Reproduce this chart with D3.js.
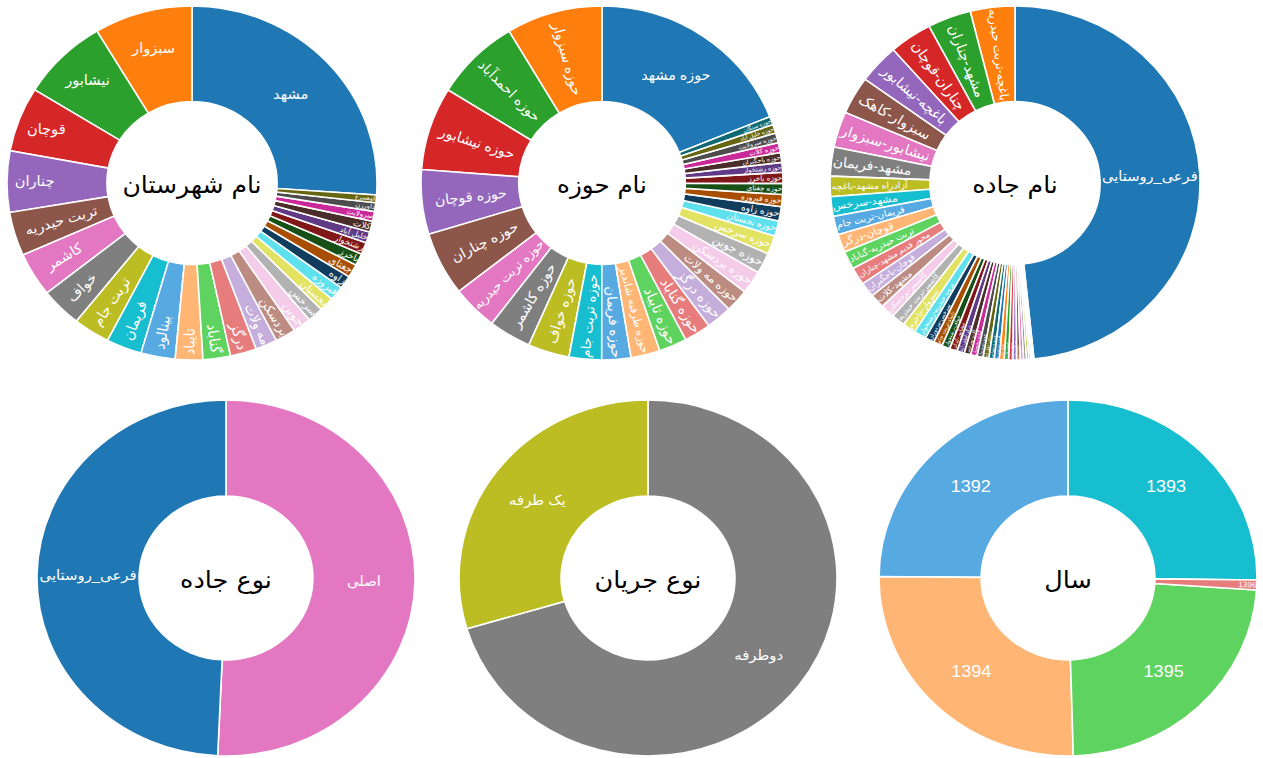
<!DOCTYPE html>
<html><head><meta charset="utf-8">
<script src="https://cdn.jsdelivr.net/npm/d3@7"></script>
<style>body{margin:0;background:#fff}svg{display:block}</style>
</head><body>
<svg id="chart" width="1263" height="758"></svg>
<script>
// ---------- colour way (category10 + lighter + darker, as Plotly extends pie colours) ----------
const baseColors  = ["#1f77b4","#ff7f0e","#2ca02c","#d62728","#9467bd","#8c564b","#e377c2","#7f7f7f","#bcbd22","#17becf"];
const lightColors = ["#57a9e2","#ffb574","#5fd35f","#e77c7c","#c6aedc","#bc8b82","#f4cbe8","#b2b2b2","#e2e362","#5fe0ed"];
const darkColors  = ["#103d5d","#a74e00","#165016","#801718","#613a85","#4a2d28","#ca2a99","#4c4c4c","#666612","#0d6a73"];
const palette = baseColors.concat(lightColors, darkColors);

// ---------- chart 1 : نام شهرستان ----------
const countyLabels = ["مشهد","سبزوار","نیشابور","قوچان","چناران","تربت حیدریه","کاشمر","خواف","تربت جام","فریمان","بینالود","تایباد","گناباد","درگز","مه ولات","بردسکن","جوین","سرخس","بجستان","فیروزه","زاوه","جغتای","باخرز","رشتخوار","خلیل آباد","کلات","سرولایت","داورزن","کوهسرخ"];
const countyValues = [26.1,8.6,7.6,5.9,5.6,4.0,4.0,3.6,3.2,3.1,3.0,2.4,2.4,2.3,1.9,1.8,1.6,1.4,1.3,1.3,1.2,1.2,1.1,1.1,1.0,1.0,0.9,0.8,0.7];

// ---------- chart 2 : نام حوزه ----------
const basinLabels = ["حوزه مشهد","حوزه سبزوار","حوزه احمدآباد","حوزه نیشابور","حوزه قوچان","حوزه چناران","حوزه تربت حیدریه","حوزه کاشمر","حوزه خواف","حوزه تربت جام","حوزه فریمان","حوزه طرقبه شاندیز","حوزه تایباد","حوزه گناباد","حوزه درگز","حوزه مه ولات","حوزه بردسکن","حوزه جوین","حوزه سرخس","حوزه بجستان","حوزه زاوه","حوزه فیروزه","حوزه جغتای","حوزه باخرز","حوزه رشتخوار","حوزه باجگیران","حوزه کلات","حوزه سرولایت","حوزه خلیل آباد","حوزه سنگان"];
const basinValues = [18.9,8.6,7.6,7.6,5.9,5.8,4.1,3.8,3.7,2.9,2.6,2.6,2.5,2.4,2.3,2.1,2.1,1.9,1.7,1.4,1.3,1.1,1.0,1.0,0.9,0.9,0.9,0.9,0.8,0.75];

// ---------- chart 3 : نام جاده ----------
const roadLabels = ["فرعی_روستایی","باغچه-تربت حیدریه","مشهد-چناران","چناران-قوچان","باغچه-نیشابور","سبزوار-کاهک","نیشابور-سبزوار","مشهد-فریمان","آزادراه مشهد-باغچه","مشهد-سرخس","فریمان-تربت جام","قوچان-درگز","تربت حیدریه-گناباد","محور قدیم مشهد-چناران","قوچان-باجگیران","مشهد-کلات","کاشمر-بردسکن","کاشمر-تربت حیدریه","سبزوار-جاجرم","تربت حیدریه-رشتخوار","سرخس-مزدوران","تایباد-تربت جام","خواف-رشتخوار","نیشابور-کدکن","درگز-لطف آباد","کلات-سرخس","گناباد-بجستان","جوین-سبزوار","بردسکن-خلیل آباد","فیروزه-نیشابور","زاوه-تربت حیدریه","تایباد-باخرز","قوچان-فاروج","مشهد-نیشابور","سرولایت-نیشابور","چناران-رادکان","طرقبه-شاندیز","داورزن-سبزوار","جغتای-سبزوار","مه ولات-فیض آباد","کاشمر-خلیل آباد","بجستان-فردوس"];
const roadValues = [48.4,3.9,3.8,3.75,3.6,3.45,3.25,2.65,1.85,1.8,1.7,1.65,1.65,1.6,1.35,1.3,1.25,1.2,1.15,1.1,0.8,0.78,0.72,0.67,0.64,0.58,0.56,0.53,0.5,0.47,0.44,0.42,0.39,0.36,0.33,0.31,0.28,0.25,0.22,0.17,0.14,0.11];

// ---------- chart 4 : نوع جاده ----------
const roadTypeLabels = ["اصلی","فرعی_روستایی"];
const roadTypeValues = [50.7,49.3];
const roadTypeColors = ["#e377c2","#1f77b4"];

// ---------- chart 5 : نوع جریان ----------
const flowLabels = ["دوطرفه","یک طرفه"];
const flowValues = [70.4,29.6];
const flowColors = ["#7f7f7f","#bcbd22"];

// ---------- chart 6 : سال ----------
const yearLabels = ["1393","1392","1394","1395","1396"];
const yearValues = [25.2,24.9,25.6,23.5,0.9];
const yearColors = ["#17becf","#57a9e2","#ffb574","#5fd35f","#e77c7c"];

const charts = [
  {title:"نام شهرستان", labels:countyLabels, values:countyValues, colors:null, cx:192, cy:183, rx:185, ry:177, fs:14},
  {title:"نام حوزه",     labels:basinLabels,  values:basinValues,  colors:null, cx:602, cy:183, rx:181, ry:177, fs:14},
  {title:"نام جاده",     labels:roadLabels,   values:roadValues,   colors:null, cx:1015, cy:183, rx:185, ry:177, fs:14},
  {title:"نوع جاده",     labels:roadTypeLabels, values:roadTypeValues, colors:roadTypeColors, cx:226, cy:578, rx:189, ry:178, fs:14},
  {title:"نوع جریان",    labels:flowLabels,   values:flowValues,   colors:flowColors, cx:648, cy:578, rx:189, ry:178, fs:14},
  {title:"سال",          labels:yearLabels,   values:yearValues,   colors:yearColors, cx:1068, cy:578, rx:189, ry:178, fs:17}
];

const HOLE = 0.46, TEXTPAD = 3;
const svg = d3.select("#chart");
svg.append("rect").attr("width",1263).attr("height",758).attr("fill","#fff");

function calcMaxHalfSize(a, halfAngle, r, ring){
  const q = a + 1/(2*Math.tan(halfAngle));
  return r*Math.min(1/(Math.sqrt(q*q+0.5)+q), ring/(Math.sqrt(a*a+ring/2)+a));
}
function calcRCenter(a,b){ return Math.cos(b) - a*b; }
function calcRotate(t){ return (180/Math.PI*t + 720) % 180 - 90; }
function radT(W,H,R,ring,half,mid){
  const r = Math.max(0, R-2*TEXTPAD), a = W/H, s = calcMaxHalfSize(a,half,r,ring);
  return {scale:s*2/H, rc:calcRCenter(a,s/r), rot:calcRotate(mid)};
}
function tanT(W,H,R,ring,half,mid){
  const r = Math.max(0, R-2*TEXTPAD), a = H/W, s = calcMaxHalfSize(a,half,r,ring);
  return {scale:s*2/W, rc:calcRCenter(a,s/r), rot:calcRotate(mid+Math.PI/2)};
}
function insideTransform(W,H,start,stop,R,ring){
  const half = Math.abs(stop-start)/2, mid = (start+stop)/2;
  const cands = [];
  const crossing = ang => (start>ang && ang>stop) || (start<ang && ang<stop);
  const consider = (ang,key) => {
    if(!crossing(ang)) return;
    const ce = Math.min(Math.abs(ang-start), Math.abs(ang-stop));
    const t = key==="tan" ? tanT(W,H,R,ring,ce,0) : radT(W,H,R,ring,ce,Math.PI/2);
    t.pos = ang; cands.push(t);
  };
  for(let i=4;i>=-4;i-=2) consider(Math.PI*i,"tan");
  for(let i=4;i>=-4;i-=2) consider(Math.PI*(i+1),"tan");
  for(let i=4;i>=-4;i-=2) consider(Math.PI*(i+1.5),"rad");
  for(let i=4;i>=-4;i-=2) consider(Math.PI*(i+0.5),"rad");
  const rIns = Math.min(1/(1+1/Math.sin(Math.min(half,Math.PI/2))), ring/2);
  const h = {scale:rIns*R*2/Math.hypot(W,H), rc:1-rIns, rot:0, pos:mid};
  if(h.scale>=1) return h;
  cands.push(h);
  const hh = Math.min(half, Math.PI/2-1e-3);
  const rt = radT(W,H,R,ring,hh,mid); rt.pos = mid; cands.push(rt);
  const tt = tanT(W,H,R,ring,hh,mid); tt.pos = mid; cands.push(tt);
  let best = cands[0], ms = 0;
  cands.forEach(c => { if(ms < c.scale){ ms = c.scale; best = c; } });
  return best;
}

function drawDonut(cfg){
  const R = cfg.ry, ring = 1-HOLE;
  const sx = cfg.rx/cfg.ry;
  const g = svg.append("g").attr("transform",`translate(${cfg.cx},${cfg.cy}) scale(${sx},1)`);
  const total = d3.sum(cfg.values);
  const s0 = 2*Math.PI*cfg.values[0]/total;
  const pie = d3.pie().sort(null).startAngle(s0).endAngle(s0-2*Math.PI);
  const arcs = pie(cfg.values);
  const arc = d3.arc().innerRadius(R*HOLE).outerRadius(R);
  const col = i => cfg.colors ? cfg.colors[i] : palette[i % palette.length];
  g.selectAll("path.slice").data(arcs).join("path")
    .attr("class","slice").attr("d",arc).attr("fill",(d,i)=>col(i))
    .attr("stroke","#fff").attr("stroke-width",1.6).attr("vector-effect","non-scaling-stroke");
  arcs.forEach((a,i)=>{
    const t = g.append("text").text(cfg.labels[i])
      .attr("font-family","'Liberation Sans','DejaVu Sans',sans-serif")
      .attr("font-size",cfg.fs).attr("fill","#fff").attr("text-anchor","middle");
    const bb = t.node().getBBox();
    if(bb.width===0) return;
    const tr = insideTransform(bb.width, bb.height, a.startAngle, a.endAngle, R, ring);
    const sc = Math.min(1, tr.scale);
    const tx = R*tr.rc*Math.sin(tr.pos), ty = -R*tr.rc*Math.cos(tr.pos);
    const bcx = bb.x + bb.width/2, bcy = bb.y + bb.height/2;
    t.attr("transform",`translate(${tx},${ty}) rotate(${tr.rot}) scale(${sc}) translate(${-bcx},${-bcy})`);
  });
  g.append("text").text(cfg.title)
    .attr("font-family","'DejaVu Sans',sans-serif").attr("font-size",24)
    .attr("fill","#000").attr("text-anchor","middle").attr("dominant-baseline","central")
    .attr("y",2);
}
charts.forEach(drawDonut);
</script>
</body></html>
